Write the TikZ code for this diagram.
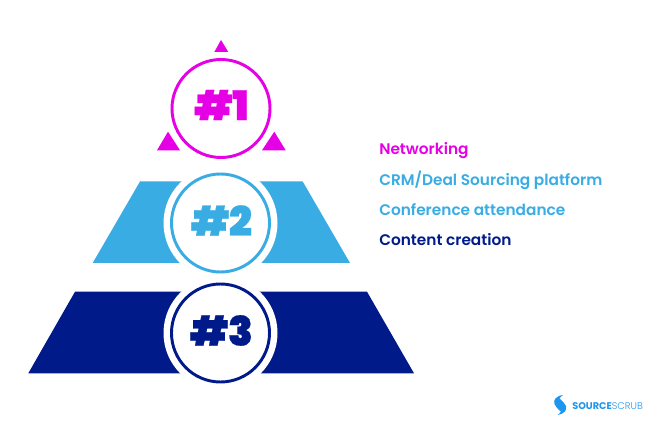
\documentclass[tikz,border=0pt]{standalone}
\usepackage{fontspec}
\setmainfont{Poppins}
\newfontfamily\labelfont{Poppins SemiBold}
\newfontfamily\rankfont[FakeBold=0.5]{Poppins Black}
\newfontfamily\logofont{Poppins}
\newfontfamily\logolight{Poppins Light}
\definecolor{pinkc}{HTML}{E600E6}
\definecolor{skyc}{HTML}{38ACE3}
\definecolor{navyc}{HTML}{001A8A}
\definecolor{logoc}{HTML}{1E96EE}
\tikzset{
  rank/.style={circle,draw=#1,fill=white,line width=2.2pt,minimum size=73.5pt,inner sep=0pt},
  ranktext/.style={text=#1,inner sep=0pt,font=\rankfont\fontsize{30.5}{30}\selectfont},
  halo/.style={circle,fill=white,minimum size=85.5pt,inner sep=0pt},
  item/.style={anchor=west,inner sep=0pt,text=#1,font=\labelfont\fontsize{11.5}{13}\selectfont}
}
\begin{document}
\begin{tikzpicture}[x=0.75pt,y=-0.75pt]
\useasboundingbox (0,0) rectangle (662,431);
\fill[pinkc] (221,40) -- (228.3,52) -- (214.3,52) -- cycle;
\fill[pinkc] (168,131.7) -- (180,150.3) -- (157,150.3) -- cycle;
\fill[pinkc] (274.3,131.7) -- (285.7,150.3) -- (262,150.3) -- cycle;
\fill[skyc] (140,181.5) -- (302.7,181.5) -- (350,263) -- (92.7,263) -- cycle;
\fill[navyc] (75,291.7) -- (367,291.7) -- (414,373.3) -- (28.3,373.3) -- cycle;
\node[halo] (halotwo) at (220.5,223) {};
\node[halo] (halothree) at (220.5,333) {};
\node[rank=pinkc] (one) at (221,108.5) {};
\node[rank=skyc] (two) at (220.5,223) {};
\node[rank=navyc] (three) at (220.5,333) {};
\node[ranktext=pinkc] (numone) at (221.5,105) {\#1};
\node[ranktext=skyc] (numtwo) at (221.5,220.5) {\#2};
\node[ranktext=navyc] (numthree) at (221.5,330.5) {\#3};
\node[item=pinkc] (networking) at (379,150.5) {Networking};
\node[item=skyc] (crm) at (379,180) {CRM/Deal Sourcing platform};
\node[item=skyc] (conference) at (379,210) {Conference attendance};
\node[item=navyc] (content) at (379,239.5) {Content creation};
\fill[logoc] (563,395) .. controls (556,396) and (553,400) .. (554.5,404) .. controls (555.5,407) and (558,409) .. (560.5,411.5) .. controls (563,407) and (562,404.5) .. (560,402.5) .. controls (558,400) and (560,397) .. (563,395) -- cycle;
\fill[logoc] (557.5,415) .. controls (564,414) and (567.5,410) .. (566,406) .. controls (565,403) and (562,401) .. (559.5,398.5) .. controls (557.5,402) and (558.5,405) .. (560.5,407.5) .. controls (562.5,410) and (560.5,413) .. (557.5,415) -- cycle;
\node[anchor=west,inner sep=0pt,text=logoc] (logo) at (572,405.7) {\fontsize{7.3}{8}\selectfont{\logofont\bfseries SOURCE}{\logolight SCRUB}};
\end{tikzpicture}
\end{document}
